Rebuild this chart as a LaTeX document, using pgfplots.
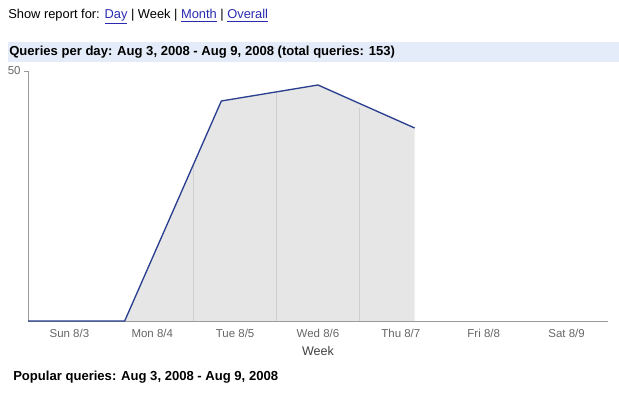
\documentclass[border=0pt]{standalone}
\usepackage{fontspec}
\setmainfont{Liberation Sans}
\usepackage{pgfplots}
\pgfplotsset{compat=1.18}
\definecolor{linkblue}{HTML}{2A2AB0}
\definecolor{bandblue}{HTML}{E5ECF9}
\definecolor{axisgray}{HTML}{9A9A9A}
\definecolor{ticktext}{HTML}{666666}
\definecolor{fillgray}{HTML}{E6E6E6}
\definecolor{gridgray}{HTML}{CFCFCF}
\definecolor{linecol}{HTML}{2B3F8F}
\begin{document}
\begin{tikzpicture}[x=0.75pt,y=-0.75pt]
\path[use as bounding box] (0,0) rectangle (619,395);
\fill[bandblue] (8,42) rectangle (619,62);
\node[anchor=west,font=\fontsize{9.65pt}{11pt}\selectfont,inner sep=0pt] at (8,17)
 {Show report for: \textcolor{linkblue}{\underline{Day}} | Week | \textcolor{linkblue}{\underline{Month}} | \textcolor{linkblue}{\underline{Overall}}};
\node[anchor=west,font=\fontsize{9.8pt}{11pt}\selectfont\bfseries,inner sep=0pt] at (9,52.5)
 {Queries per day: Aug 3, 2008 - Aug 9, 2008 (total queries: 153)};
\node[anchor=west,font=\fontsize{9.8pt}{11pt}\selectfont\bfseries,inner sep=0pt] at (13,377)
 {Popular queries: Aug 3, 2008 - Aug 9, 2008};
\begin{axis}[
  at={(21pt,-240.75pt)}, anchor=south west,
  scale only axis, width=435pt, height=187.5pt,
  xmin=0, xmax=6, ymin=0, ymax=50,
  axis lines=left, axis line style={axisgray,-},
  ytick={50}, yticklabel style={ticktext,font=\fontsize{8.6pt}{10pt}\selectfont,xshift=1pt},
  /pgf/number format/assume math mode=true,
  ytick style={axisgray}, tick align=outside, major tick length=3pt,
  xtick={0.4286,1.2857,2.1429,3,3.8571,4.7143,5.5714},
  xticklabels={Sun 8/3,Mon 8/4,Tue 8/5,Wed 8/6,Thu 8/7,Fri 8/8,Sat 8/9},
  xtick style={draw=none},
  xticklabel style={ticktext,font=\fontsize{8.6pt}{10pt}\selectfont,yshift=0.5pt},
  xlabel={Week}, xlabel style={font=\fontsize{9.4pt}{11pt}\selectfont,color=black!75,yshift=0pt},
  clip=false,
]
\addplot[fill=fillgray,draw=none] coordinates {(1,0)(2,44)(3,47.2)(4,38.6)(4,0)} \closedcycle;
\addplot[ycomb,gridgray,line width=0.6pt,mark=none] coordinates {(1.7143,31.4)(2.5714,45.9)(3.4286,42.6)};
\addplot[linecol,line width=1pt,mark=none] coordinates {(0,0)(1,0)(2,44)(3,47.2)(4,38.6)};
\end{axis}
\end{tikzpicture}
\end{document}
